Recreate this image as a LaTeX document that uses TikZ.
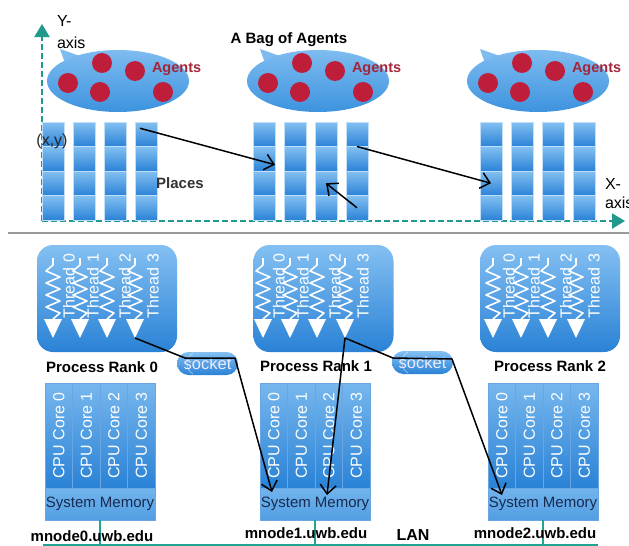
\documentclass[tikz,border=0pt]{standalone}
\usepackage{fontspec}
\setmainfont{Liberation Sans}
\usetikzlibrary{arrows.meta,calc,shapes.geometric}

\definecolor{axisteal}{HTML}{1F9A8C}
\definecolor{lanteal}{HTML}{22A394}
\definecolor{paleblue}{HTML}{84C0F2}
\definecolor{deepblue}{HTML}{2A82D6}
\definecolor{bagtop}{HTML}{7EBCF0}
\definecolor{bagbot}{HTML}{3D93DE}
\definecolor{agentfill}{HTML}{BE1E3A}
\definecolor{agentink}{HTML}{A3263B}
\definecolor{memink}{HTML}{172A4F}
\definecolor{sepgray}{HTML}{9A9A9A}

\tikzset{
  every node/.style={inner sep=0pt, outer sep=0pt},
  boldlbl/.style={font=\fontsize{15}{18}\selectfont\bfseries},
  plainlbl/.style={font=\fontsize{16}{19}\selectfont},
  cellbox/.style={rectangle, minimum width=22pt, minimum height=24.5pt,
    top color=paleblue, bottom color=deepblue, draw=paleblue!50!white, line width=0.4pt},
  bagshape/.style={ellipse, minimum width=142pt, minimum height=62pt,
    top color=bagtop, bottom color=bagbot},
  agentdot/.style={circle, minimum size=20pt, fill=agentfill},
  agentlbl/.style={font=\fontsize{14.5}{17}\selectfont\bfseries, text=agentink, anchor=west},
  axisline/.style={axisteal, line width=2.2pt, dash pattern=on 6pt off 3pt,
    -{Triangle[length=13pt, width=15pt]}},
  flow/.style={black, line width=1.5pt, line join=round,
    -{Straight Barb[length=9pt, width=16pt]}},
  procbox/.style={rectangle, rounded corners=16pt, minimum width=140pt, minimum height=107pt,
    top color=paleblue, bottom color=deepblue},
  threadlbl/.style={font=\fontsize{16}{19}\selectfont, text=white, rotate=90, anchor=west},
  sockbox/.style={rectangle, rounded corners=11.5pt, minimum width=61pt, minimum height=23pt,
    top color=paleblue, bottom color=deepblue, text=white!92!blue,
    font=\fontsize{16.5}{19}\selectfont},
  corebox/.style={rectangle, minimum width=27.5pt, minimum height=105pt,
    top color=paleblue!85!deepblue, bottom color=deepblue, draw=deepblue!70!white, line width=0.5pt},
  corelbl/.style={font=\fontsize{16}{19}\selectfont, text=white, rotate=90},
  membox/.style={rectangle, minimum width=110pt, minimum height=32pt,
    top color=paleblue!80!deepblue, bottom color=paleblue!45!deepblue,
    draw=deepblue!70!white, line width=0.5pt,
    text=memink, font=\fontsize{15}{18}\selectfont},
  lanline/.style={lanteal, line width=1.5pt},
  thread/.pic={
    \draw[white, line width=1.6pt, line join=round]
      (0,-80) -- (0,-73) -- (-7,-67) -- (7,-61) -- (-7,-55) -- (7,-49)
      -- (-7,-43) -- (7,-37) -- (-7,-31) -- (7,-25) -- (0,-19);
    \fill[white] (-9,-19) -- (9,-19) -- (0,0) -- cycle;
    \coordinate (-tip) at (0,0);
  },
}

\begin{document}
\begin{tikzpicture}[x=1pt, y=-1pt]
\useasboundingbox[fill=white] (0,0) rectangle (629,546);

% ---------- agents and places ----------
% axes
\coordinate (origin) at (42,221);
\coordinate (ytop) at (42,24);
\coordinate (xend) at (625,221);
\draw[axisline] (origin) -- (ytop);
\draw[axisline] (origin) -- (xend);
\node[plainlbl, anchor=base west] (ylabA) at (57,26) {Y-};
\node[plainlbl, anchor=base west] (ylabB) at (57,48) {axis};
\node[plainlbl, anchor=base west] (xlabA) at (605,189) {X-};
\node[plainlbl, anchor=base west] (xlabB) at (605,208) {axis};

\node[boldlbl, anchor=base] (bagtitle) at (289,43.5) {A Bag of Agents};

% place grids
\foreach \g/\gx in {1/42, 2/253, 3/480} {
  \foreach \c in {1,...,4} {
    \foreach \r in {1,...,4} {
      \node[cellbox] (g\g c\c r\r) at ({\gx+(\c-1)*31+11},{122+(\r-1)*24.5+12.25}) {};
    }
  }
}

% bags of agents
\foreach \b/\bx in {1/118, 2/318, 3/538} {
  \fill[bagtop] (\bx-58,49) -- (\bx-38,56) -- (\bx-52,66) -- cycle;
  \node[bagshape] (bag\b) at (\bx,81) {};
  \node[agentdot] (b\b a1) at (\bx-50,83) {};
  \node[agentdot] (b\b a2) at (\bx-16,63) {};
  \node[agentdot] (b\b a3) at (\bx-18,92) {};
  \node[agentdot] (b\b a4) at (\bx+17,71) {};
  \node[agentdot] (b\b a5) at (\bx+45,92) {};
  \node[agentlbl] (blab\b) at (\bx+34,69) {Agents};
}

\node[plainlbl, text=black!85] (xy) at (52,141) {(x,y)};
\node[boldlbl, text=black!80] (places) at (180,183) {Places};

% agent migrations
\draw[flow] ($(g1c4r1.center)+(-6,-6)$) -- ($(g2c1r2.east)+(0,6)$);
\draw[flow] (g2c4r1.south) -- (g3c1r3.center);
\draw[flow] (g2c4r4.center) -- (g2c3r3.center);

% separator
\coordinate (sepW) at (8,233);
\coordinate (sepE) at (629,233);
\draw[sepgray, line width=1.5pt] (sepW) -- (sepE);

% ---------- processes and threads ----------
\foreach \p/\bx/\ta/\tb/\tc/\td in {0/107/53/80/107/135, 1/323.5/263/290/317/345, 2/550/493/521/548/576} {
  \node[procbox] (pb\p) at (\bx,298.5) {};
  \foreach \t/\tx/\off in {0/\ta/16, 1/\tb/13, 2/\tc/18, 3/\td/18} {
    \pic (p\p t\t) at (\tx,338) {thread};
    \node[threadlbl] (p\p l\t) at (\tx+\off,318) {Thread \t};
  }
}
\node[boldlbl] (pr0) at (102,367) {Process Rank 0};
\node[boldlbl] (pr1) at (316,366) {Process Rank 1};
\node[boldlbl] (pr2) at (550,366) {Process Rank 2};

% sockets
\foreach \s/\sx/\sy in {1/207.5/363.5, 2/422.5/362.5} {
  \node[sockbox] (sock\s) at (\sx,\sy) {socket};
  \draw[white, opacity=0.45, line width=0.8pt]
    ($(sock\s.north west)+(16,1)$) .. controls ($(sock\s.west)+(8,-6)$) and ($(sock\s.west)+(8,6)$) .. ($(sock\s.south west)+(16,-1)$);
}

% ---------- machines ----------
\foreach \n/\L in {0/45, 1/260, 2/488} {
  \foreach \c in {0,...,3} {
    \node[corebox] (n\n c\c) at ({\L+13.75+27.5*\c},435.5) {};
    \node[corelbl] (n\n k\c) at (n\n c\c) {CPU Core \c};
  }
  \node[membox] (mem\n) at (\L+55,504) {System Memory};
}

% LAN
\coordinate (lanW) at (43,545);
\coordinate (lanE) at (598,545);
\draw[lanline] (lanW) -- (lanE);
\foreach \n in {0,1,2} {
  \draw[lanline] (mem\n.south) -- (mem\n.south |- lanW);
}
\node[boldlbl] (host0) at (92,536) {mnode0.uwb.edu};
\node[boldlbl] (host1) at (306,533) {mnode1.uwb.edu};
\node[boldlbl] (host2) at (535,533) {mnode2.uwb.edu};
\node[boldlbl, font=\fontsize{16}{19}\selectfont\bfseries] (lan) at (413,535) {LAN};

% messages between threads and memories
\draw[flow] (p0t3-tip) -- ($(sock1.north west)+(8,6)$) -- ($(sock1.north east)+(-3,6)$)
  -- ($(mem1.north west)+(12,4)$);
\draw[flow] (p1t3-tip) -- ($(sock2.north west)+(1,7)$) -- ($(sock2.north east)+(-1,8)$)
  -- ($(mem2.north west)+(14,7)$);
\draw[flow] (p1t3-tip) -- ($(mem1.north west)+(67,7)$);
\end{tikzpicture}
\end{document}
